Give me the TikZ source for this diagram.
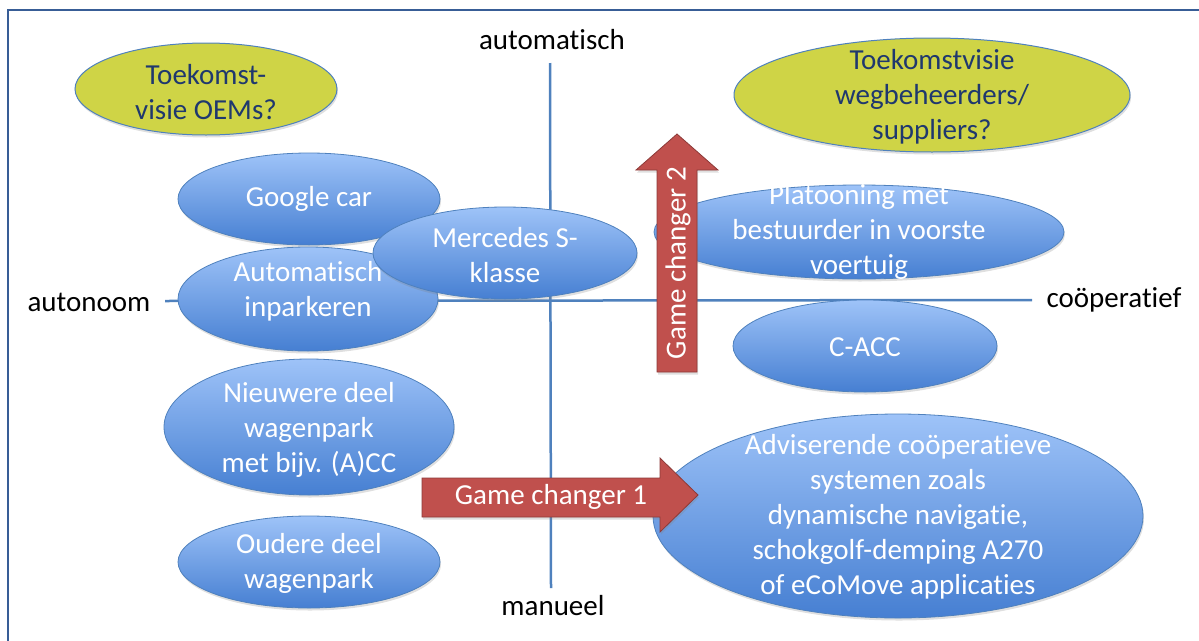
\documentclass[tikz,border=0pt]{standalone}
\usepackage{fontspec}
\setmainfont{Carlito}[Ligatures=NoCommon]
\usetikzlibrary{shapes.geometric,shadows}
\definecolor{axisblue}{RGB}{79,129,189}
\definecolor{frameblue}{RGB}{56,93,150}
\definecolor{ellTop}{RGB}{158,195,248}
\definecolor{ellBot}{RGB}{70,127,210}
\definecolor{ellEdge}{RGB}{79,129,189}
\definecolor{oliveg}{RGB}{207,212,70}
\definecolor{navyt}{RGB}{31,56,110}
\definecolor{gcred}{RGB}{192,80,77}
\definecolor{gcedge}{RGB}{140,58,56}
\begin{document}
\begin{tikzpicture}[x=1pt,y=-1pt,
  shad/.style={drop shadow={opacity=0.25,shadow xshift=1pt,shadow yshift=-2.5pt}},
  blueell/.style={ellipse,draw=ellEdge,line width=0.8pt,top color=ellTop,bottom color=ellBot,inner sep=0pt,shad},
  greenell/.style={ellipse,draw=ellEdge,line width=1pt,fill=oliveg,inner sep=0pt,shad},
  wtxt/.style={text=white,align=center,font=\fontsize{29}{35}\selectfont,inner sep=0pt},
  ntxt/.style={text=navyt,align=center,font=\fontsize{29}{35}\selectfont,inner sep=0pt},
  axlab/.style={text=black,font=\fontsize{29}{35}\selectfont,inner sep=0pt},
  axisline/.style={draw=axisblue,line width=2.5pt},
  gcarrow/.style={fill=gcred,draw=gcedge,line width=0.8pt,shad}]
\useasboundingbox (0,0) rectangle (1199,640);
% frame
\coordinate (ftr) at (1205,10);
\coordinate (ftl) at (8,10);
\coordinate (fbl) at (8,646);
\draw[frameblue,line width=2.2pt] (ftr) -- (ftl) -- (fbl);
% axes
\coordinate (vtop) at (550,63);
\coordinate (vbot) at (551,588);
\coordinate (hl) at (165,301);
\coordinate (hr) at (1032,300);
\draw[axisline] (vtop) -- (vbot);
\draw[axisline] (hl) -- (hr);
\node[axlab] (lauto) at (552,40) {automatisch};
\node[axlab] (lman) at (553,606) {manueel};
\node[axlab] (laut) at (89,302) {autonoom};
\node[axlab] (lcoop) at (1114,300) {coöperatief};
% green ellipses
\node[greenell,minimum width=262pt,minimum height=92pt] (oem) at (206,89) {};
\node[ntxt] (oemt) at (206,92) {Toekomst-\\visie OEMs?};
\node[greenell,minimum width=396pt,minimum height=114pt] (weg) at (932,95) {};
\node[ntxt] (wegt) at (932,97) {Toekomstvisie\\wegbeheerders/\\suppliers?};
% blue ellipses
\node[blueell,minimum width=262pt,minimum height=92pt] (google) at (309,199) {};
\node[wtxt] (googlet) at (309,199) {Google car};
\node[blueell,minimum width=260pt,minimum height=104pt] (park) at (308,299) {};
\node[wtxt] (parkt) at (308,291) {Automatisch\\inparkeren};
\node[blueell,minimum width=264pt,minimum height=92pt] (merc) at (505,253) {};
\node[wtxt] (merct) at (505,255) {Mercedes S-\\klasse};
\node[blueell,minimum width=410pt,minimum height=94pt] (plat) at (859,232) {};
\node[wtxt] (platt) at (859,232) {Platooning met\\bestuurder in voorste\\voertuig};
\node[blueell,minimum width=264pt,minimum height=92pt] (cacc) at (865,346) {};
\node[wtxt] (cacct) at (865,347) {C-ACC};
\node[blueell,minimum width=490pt,minimum height=204pt] (advi) at (898,516) {};
\node[wtxt] (advit) at (898,517) {Adviserende coöperatieve\\systemen zoals\\dynamische navigatie,\\schokgolf-demping A270\\of eCoMove applicaties};
\node[blueell,minimum width=290pt,minimum height=136pt] (nieuw) at (309,427) {};
\node[wtxt] (nieuwt) at (309,430) {Nieuwere deel\\wagenpark\\met bijv. (A)CC};
\node[blueell,minimum width=262pt,minimum height=92pt] (oud) at (309,562) {};
\node[wtxt] (oudt) at (309,563) {Oudere deel\\wagenpark};
% game changer 1
\coordinate (g1) at (422,497.5);
\draw[gcarrow] (g1) ++(0,-19.5) -- ++(238,0) -- ++(0,-20) -- (698,495) -- (660,532) -- (660,517) -- (422,517) -- cycle;
\node[wtxt] (g1t) at (551,497) {Game changer 1};
% game changer 2
\coordinate (g2) at (677,372);
\draw[gcarrow] (g2) ++(-20,0) -- (657,170) -- (636,170) -- (677,134) -- (718,170) -- (697,170) -- (697,372) -- cycle;
\node[wtxt,rotate=90] (g2t) at (678,263) {Game changer 2};
\end{tikzpicture}
\end{document}
